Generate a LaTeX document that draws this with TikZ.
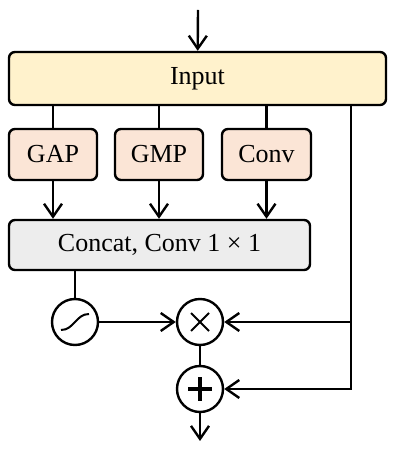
\documentclass[tikz,border=0pt]{standalone}
\usepackage{fontspec}
\setmainfont{Liberation Serif}
\usetikzlibrary{arrows.meta}
\definecolor{jaune}{RGB}{255,242,204}
\definecolor{saumon}{RGB}{251,229,214}
\definecolor{gris}{RGB}{237,237,237}

\begin{document}
\begin{tikzpicture}[x=1pt,y=1pt,line width=2.4pt,
  fl/.style={-{Straight Barb[length=13pt,width=18pt]}},
  boite/.style={draw,rounded corners=6pt,inner sep=0pt,font=\fontsize{26}{31}\selectfont},
  rond/.style={draw,circle,minimum size=46pt,inner sep=0pt}]
\useasboundingbox (0,0) rectangle (402,450);

\node[boite,fill=jaune,minimum width=377pt,minimum height=53pt] (in) at (197.5,371.5) {Input};
\node[boite,fill=saumon,minimum width=88pt,minimum height=51pt] (gap) at (53,295.5) {GAP};
\node[boite,fill=saumon,minimum width=88pt,minimum height=51pt] (gmp) at (159,295.5) {GMP};
\node[boite,fill=saumon,minimum width=89pt,minimum height=51pt] (conv) at (266.5,295.5) {Conv};
\node[boite,fill=gris,minimum width=301pt,minimum height=50pt] (cat) at (159.5,205) {Concat, Conv 1 × 1};
\node[rond] (sig) at (75,128) {};
\node[rond] (mul) at (200,128) {};
\node[rond] (add) at (200,61) {};
\coordinate (top) at (198,440);
\coordinate (out) at (200,9);
\coordinate (br) at (351,61);

% symboles
\draw[line width=2pt] ([shift={(-14,-8)}]sig.center) .. controls ([shift={(-1,-8)}]sig.center) and ([shift={(1,8)}]sig.center) .. ([shift={(14,8)}]sig.center);
\draw[line width=2pt] ([shift={(-9,-9)}]mul.center) -- ([shift={(9,9)}]mul.center);
\draw[line width=2pt] ([shift={(-9,9)}]mul.center) -- ([shift={(9,-9)}]mul.center);
\draw[line width=3.5pt] ([shift={(-12,0)}]add.center) -- ([shift={(12,0)}]add.center);
\draw[line width=3.5pt] ([shift={(0,-12)}]add.center) -- ([shift={(0,12)}]add.center);

\draw[fl] (top) -- (in);
\foreach \b in {gap,gmp,conv}{
  \draw (in.south -| \b) -- (\b);
  \draw[fl] (\b) -- (cat.north -| \b);
}
\draw (cat.south -| sig) -- (sig);
\draw[fl] (sig) -- (mul);
\draw[fl] (in.south -| br) |- (add);
\draw[fl] (br |- mul) -- (mul);
\draw (mul) -- (add);
\draw[fl] (add) -- (out);

\end{tikzpicture}
\end{document}
